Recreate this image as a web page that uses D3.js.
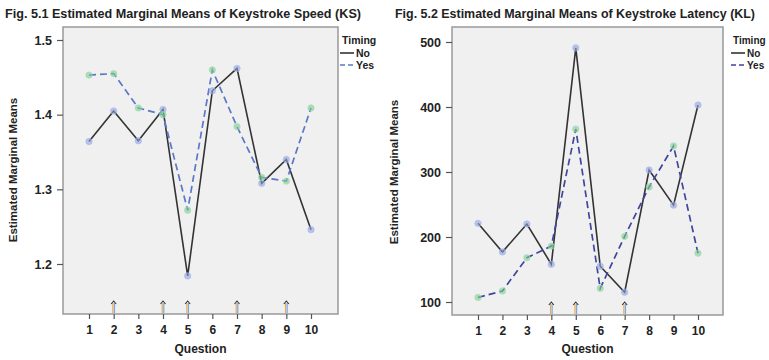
<!DOCTYPE html>
<html><head><meta charset="utf-8">
<script src="https://cdn.jsdelivr.net/npm/d3@7"></script>
<style>body{margin:0;background:#fff}svg{display:block}text{font-family:"Liberation Sans",Arial,sans-serif;font-weight:bold;fill:#222}</style>
</head><body>
<svg id="c" width="769" height="360"></svg>
<script>
const questions = [1,2,3,4,5,6,7,8,9,10];
const ksNo  = [1.364,1.405,1.365,1.407,1.184,1.432,1.462,1.308,1.340,1.246];
const ksYes = [1.453,1.455,1.409,1.400,1.272,1.460,1.384,1.316,1.311,1.409];
const ksTicks = [1.2,1.3,1.4,1.5];
const ksArrows = [2,4,5,7,9];
const klNo  = [221,177,220,158,491,155,115,303,249,403];
const klYes = [107,117,168,186,366,121,201,277,340,175];
const klTicks = [100,200,300,400,500];
const klArrows = [4,5,7];
const legendLabels = ["No","Yes"];

const svg = d3.select("#c");

function panel(o){
  const g = svg.append("g");
  const x = d3.scaleLinear().domain([1,10]).range(o.xr);
  const y = d3.scaleLinear().domain(o.yd).range(o.yr);
  // title
  g.append("text").attr("x",o.titleX).attr("y",18).attr("font-size",12.5)
    .attr("textLength",o.titleW).attr("lengthAdjust","spacingAndGlyphs").text(o.title);
  // frame
  g.append("rect").attr("x",o.fx[0]).attr("y",o.fy[0]).attr("width",o.fx[1]-o.fx[0]).attr("height",o.fy[1]-o.fy[0])
    .attr("fill","#f0f0f0").attr("stroke","#999").attr("stroke-width",1.5);
  // y axis
  const ya = g.append("g").attr("transform",`translate(${o.fx[0]},0)`)
    .call(d3.axisLeft(y).tickValues(o.ticks).tickSize(6).tickPadding(5).tickFormat(o.fmt));
  ya.select(".domain").remove();
  ya.selectAll("line").attr("stroke","#555").attr("stroke-width",1.2);
  ya.selectAll("text").attr("font-size",12.5).attr("font-family","Liberation Sans, Arial, sans-serif").attr("font-weight","bold").attr("fill","#222");
  // x axis
  const xa = g.append("g").attr("transform",`translate(0,${o.fy[1]})`)
    .call(d3.axisBottom(x).tickValues(questions).tickSize(5).tickPadding(6).tickFormat(d3.format("d")));
  xa.select(".domain").remove();
  xa.selectAll("line").attr("stroke","#555").attr("stroke-width",1.2);
  xa.selectAll("text").attr("font-size",12).attr("font-family","Liberation Sans, Arial, sans-serif").attr("font-weight","bold").attr("fill","#222");
  // axis titles
  g.append("text").attr("x",(o.fx[0]+o.fx[1])/2).attr("y",353).attr("text-anchor","middle").attr("font-size",12).text("Question");
  g.append("text").attr("transform",`translate(${o.ylx},${o.yly}) rotate(-90)`).attr("text-anchor","middle").attr("font-size",11.5).text("Estimated Marginal Means");
  // arrows
  o.arrows.forEach(q=>{
    const cx = x(q), yb = o.fy[1]-1, yt = o.fy[1]-13;
    g.append("line").attr("x1",cx-0.8).attr("x2",cx-0.8).attr("y1",yb).attr("y2",yt+2).attr("stroke","#e8a860").attr("stroke-width",1.2);
    g.append("line").attr("x1",cx+0.8).attr("x2",cx+0.8).attr("y1",yb).attr("y2",yt+2).attr("stroke","#7aa8d8").attr("stroke-width",1.2);
    g.append("path").attr("d",`M${cx-2.5},${yt+3}L${cx},${yt}L${cx+2.5},${yt+3}`).attr("fill","none").attr("stroke","#333").attr("stroke-width",1.1);
  });
  // lines
  const line = d3.line().x((d,i)=>x(questions[i])).y(d=>y(d));
  g.append("path").datum(o.no).attr("d",line).attr("fill","none").attr("stroke","#333").attr("stroke-width",1.6);
  g.append("path").datum(o.yes).attr("d",line).attr("fill","none").attr("stroke",o.dash).attr("stroke-width",1.7).attr("stroke-dasharray","7,4");
  // markers
  g.selectAll(".mn").data(o.no).enter().append("circle").attr("cx",(d,i)=>x(questions[i])).attr("cy",d=>y(d)).attr("r",3.2)
    .attr("fill","#8fa4e0").attr("fill-opacity",0.6).attr("stroke","#a8b8ec").attr("stroke-opacity",0.6);
  g.selectAll(".my").data(o.yes).enter().append("circle").attr("cx",(d,i)=>x(questions[i])).attr("cy",d=>y(d)).attr("r",3.2)
    .attr("fill","#7fcf90").attr("fill-opacity",0.6).attr("stroke","#a0dcb0").attr("stroke-opacity",0.6);
  // legend
  const lx = o.lx;
  g.append("text").attr("x",lx+2).attr("y",44).attr("font-size",o.lfs).text("Timing");
  legendLabels.forEach((lab,i)=>{
    const yy = 57 + i*12;
    g.append("line").attr("x1",lx).attr("x2",lx+14).attr("y1",yy-4).attr("y2",yy-4)
      .attr("stroke", i===0 ? "#333" : o.dash).attr("stroke-width",1.6).attr("stroke-dasharray", i===0 ? null : "5,3");
    g.append("text").attr("x",lx+16).attr("y",yy).attr("font-size",o.lfs).text(lab);
  });
}

panel({title:"Fig. 5.1  Estimated Marginal Means of Keystroke Speed (KS)", titleX:5, titleW:356,
  xr:[89,311], yd:[1.2,1.5], yr:[264,40], fx:[63,338], fy:[27,314], ticks:ksTicks, fmt:d3.format(".1f"),
  no:ksNo, yes:ksYes, arrows:ksArrows, dash:"#5a78c8", lx:340, lfs:10.5, ylx:17, yly:170});
panel({title:"Fig. 5.2 Estimated Marginal Means of Keystroke Latency (KL)", titleX:395, titleW:360,
  xr:[478,698], yd:[100,500], yr:[302,42], fx:[452,723], fy:[27,315], ticks:klTicks, fmt:d3.format("d"),
  no:klNo, yes:klYes, arrows:klArrows, dash:"#40469e", lx:731, lfs:10, ylx:398, yly:172});
</script>
</body></html>
